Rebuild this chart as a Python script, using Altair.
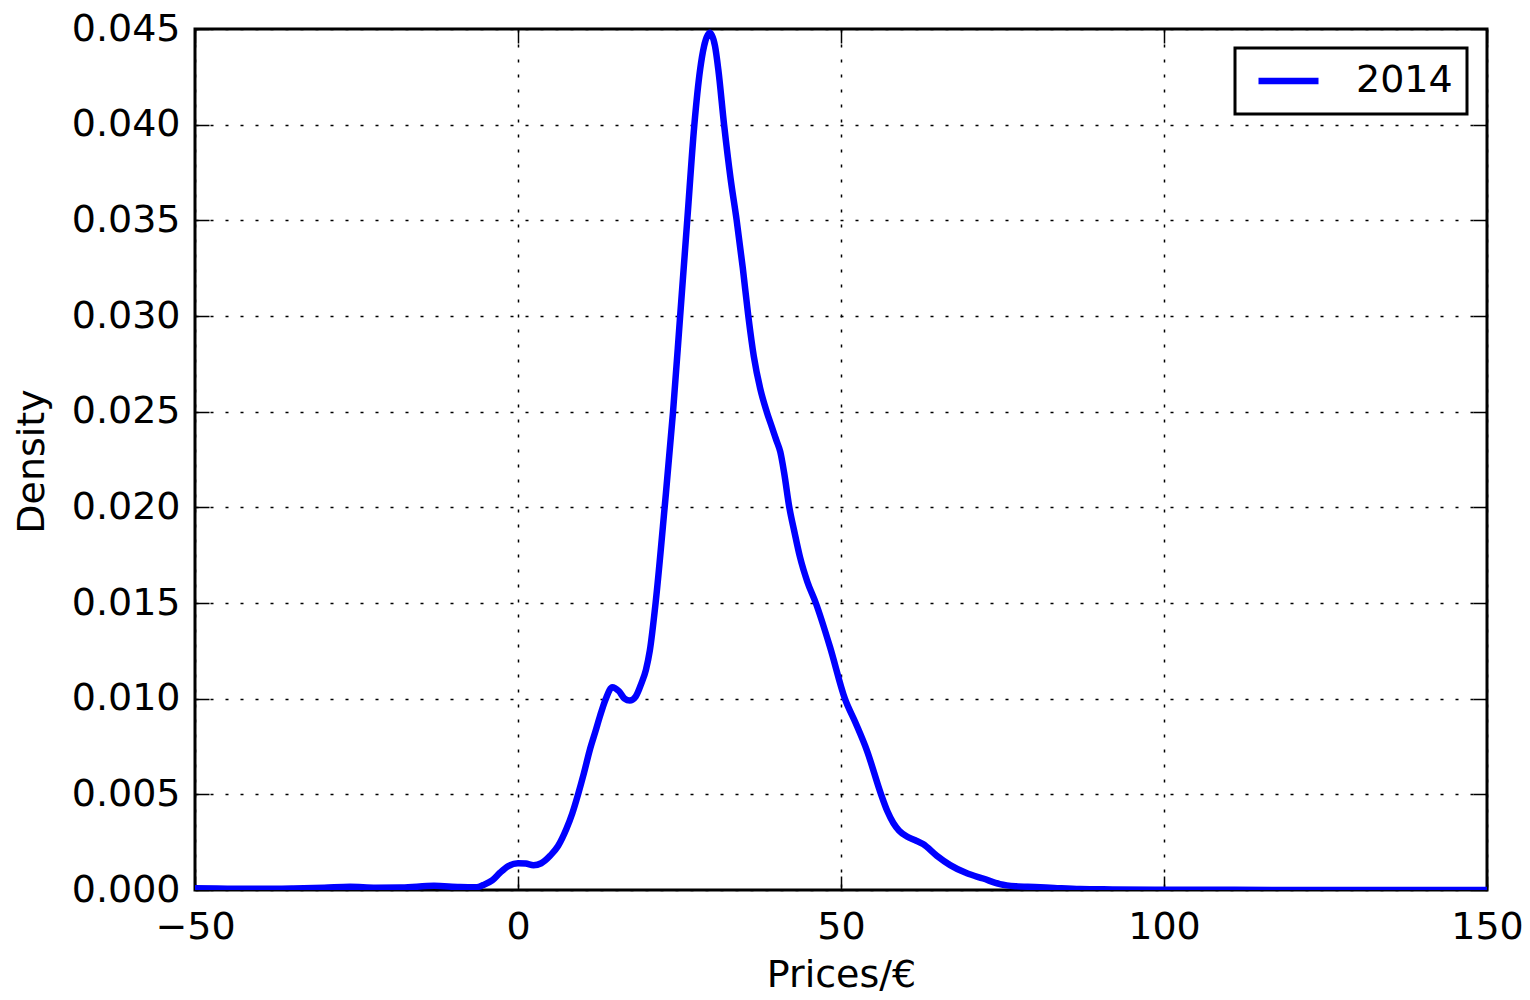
import altair as alt
import pandas as pd

# ---- data ----
prices = [-50, -45, -40, -35, -30, -26, -22, -18, -13, -9, -6.4, -5.4, -4, -2.8, -1.5,
          0, 1.2, 2.4, 3.6, 5.0, 6.2, 7.5, 8.4, 9.3, 10.2, 11.1, 12.0, 12.7, 13.6, 14.6,
          15.6, 16.5, 17.3, 18.2, 19.1, 19.8, 20.4, 21.3, 22.7, 24.0, 25.1, 26.2,
          27.3, 28.2, 28.8, 29.7, 30.5, 31.0, 31.9, 32.9, 33.85, 34.8, 35.65, 36.5, 37.5,
          38.5, 39.3, 40.0, 40.6, 41.2, 42.0, 42.8, 43.65, 44.8, 46.1, 48.3, 50.6, 52.3,
          54.0, 56.2, 57.2, 58.1, 59.0, 60.2, 61.5, 62.7, 64.8, 66.9, 69.5, 72, 74.6,
          77, 80, 83, 87, 92, 100, 110, 125, 150]
density = [0.00009, 0.00007, 0.00006, 0.00008, 0.00012, 0.00017, 0.00012, 0.00013,
           0.00022, 0.00016, 0.00015, 0.00026, 0.0005, 0.0009, 0.00125,
           0.0014, 0.00138, 0.0013, 0.0014, 0.0018, 0.0023, 0.0032, 0.0040, 0.0050,
           0.0061, 0.0073, 0.0083, 0.0091, 0.0100, 0.0106,
           0.0104, 0.0100, 0.0099, 0.0101, 0.0108, 0.0115, 0.0125, 0.0150, 0.0200,
           0.0250, 0.0300, 0.0350,
           0.0400, 0.0429, 0.0441, 0.0448, 0.0441, 0.0429, 0.0400, 0.0372, 0.0350,
           0.0325, 0.0300, 0.0279, 0.0262,
           0.0250, 0.0242, 0.0235, 0.0229, 0.0218, 0.0200, 0.0187, 0.0174, 0.0161,
           0.0150, 0.0127, 0.0100, 0.0087,
           0.0073, 0.0050, 0.0041, 0.0035, 0.0031, 0.0028, 0.0026, 0.0024, 0.0018,
           0.0013, 0.00087, 0.0006, 0.00031,
           0.0002, 0.00016, 0.00011, 0.00005, 0.00003, 0.00001, 0.00001, 0.0, 0.0]
series_name = "2014"
x_ticks = [-50, 0, 50, 100, 150]
y_ticks = [0.000, 0.005, 0.010, 0.015, 0.020, 0.025, 0.030, 0.035, 0.040, 0.045]

df = pd.DataFrame({"price": prices, "density": density,
                   "series": [series_name] * len(prices)})

FONT = "DejaVu Sans"
FS = 38
W, H = 1292, 861
inward = {"expr": "-14"}

xs = alt.Scale(domain=[-50, 150], nice=False, zero=False)
ys = alt.Scale(domain=[0, 0.045], nice=False, zero=False)

common_axis = dict(tickSize=inward, tickColor="black", tickWidth=1.5, domain=False)

main = alt.Chart(df).mark_line(strokeWidth=6.5, interpolate="monotone", clip=True).encode(
    x=alt.X("price:Q", scale=xs, axis=alt.Axis(
        orient="bottom", values=x_ticks, format="d", labelFlush=False,
        grid=True, gridDash=[3, 12], gridColor="black", gridWidth=1.5,
        labelPadding=32, labelFontSize=FS, labelFont=FONT, labelColor="black",
        title="Prices/€", titleFontSize=FS, titleFont=FONT, titleFontWeight="normal",
        titleColor="black", titleX=W / 2, titleY=96, titleAlign="center",
        titleBaseline="alphabetic", **common_axis)),
    y=alt.Y("density:Q", scale=ys, axis=alt.Axis(
        orient="left", values=y_ticks, format=".3f",
        grid=True, gridDash=[3, 12], gridColor="black", gridWidth=1.5,
        labelPadding=29, labelFontSize=FS, labelFont=FONT, labelColor="black",
        title="Density", titleFontSize=FS, titleFont=FONT, titleFontWeight="normal",
        titleColor="black", titleX=-152, titleY=432, titleAngle=270,
        titleAlign="center", titleBaseline="alphabetic", **common_axis)),
    color=alt.Color("series:N", scale=alt.Scale(domain=[series_name], range=["#0000ff"]),
                    legend=alt.Legend(
                        orient="none", legendX=1040, legendY=19, title=None,
                        symbolType="M-2,0H2", symbolSize=900, symbolStrokeWidth=6.5,
                        symbolOffset=20.5, labelOffset=48.5,
                        labelFontSize=FS, labelFont=FONT, labelColor="black",
                        padding=14, strokeColor="black", fillColor="white")),
)

mirror = alt.Chart(df).mark_line(strokeOpacity=0, clip=True).encode(
    x=alt.X("price:Q", scale=xs, axis=alt.Axis(
        orient="top", values=x_ticks, labels=False, grid=False, title="",
        **common_axis)),
    y=alt.Y("density:Q", scale=ys, axis=alt.Axis(
        orient="right", values=y_ticks, labels=False, grid=False, title="",
        **common_axis)),
)

chart = alt.layer(main, mirror).resolve_axis(
    x="independent", y="independent"
).properties(
    width=W, height=H,
    autosize=alt.AutoSizeParams(type="none"),
    padding={"left": 187, "top": 21, "right": 35, "bottom": 101},
).configure(font=FONT).configure_view(
    stroke="black", strokeWidth=3
).configure_legend(strokeWidth=3)

chart.save("out.html", embed_options={"renderer": "svg", "actions": False})
